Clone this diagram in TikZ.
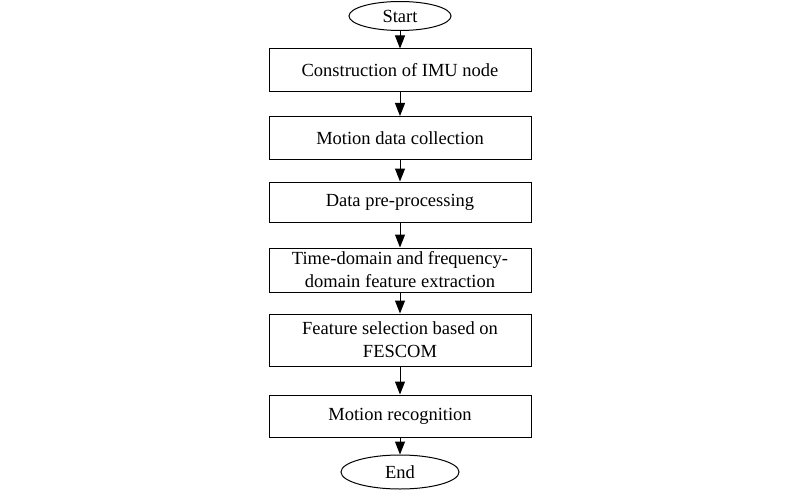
\documentclass[tikz,border=0pt]{standalone}
\usepackage{fontspec}
\setmainfont{Liberation Serif}
\usetikzlibrary{shapes.geometric,arrows.meta}
\begin{document}
\begin{tikzpicture}[x=1pt,y=-1pt,
  every node/.style={font=\fontsize{18.5}{23}\selectfont},
  stepbox/.style={draw,line width=1pt,minimum width=262pt,inner sep=0pt,align=center},
  term/.style={draw,ellipse,line width=1pt,inner sep=0pt},
  conn/.style={line width=1pt,-{Triangle[length=13pt,width=10pt]}}]
\useasboundingbox (0,0) rectangle (800,500);
\node[term,minimum width=102pt,minimum height=29pt] (start) at (400,16) {Start};
\node[stepbox,minimum height=43pt] (b1) at (400,70.5) {Construction of IMU node};
\node[stepbox,minimum height=43pt] (b2) at (400,138) {Motion data collection};
\node[stepbox,minimum height=40pt] (b3) at (400,202) {Data pre-processing};
\node[stepbox,minimum height=44pt] (b4) at (400,270) {Time-domain and frequency-\\domain feature extraction};
\node[stepbox,minimum height=52pt] (b5) at (400,340) {Feature selection based on\\FESCOM};
\node[stepbox,minimum height=42pt] (b6) at (400,416) {Motion recognition};
\node[term,minimum width=118pt,minimum height=34pt] (end) at (400,472) {End};
\draw[conn] (start) -- (b1);
\draw[conn] (b1) -- (b2);
\draw[conn] (b2) -- (b3);
\draw[conn] (b3) -- (b4);
\draw[conn] (b4) -- (b5);
\draw[conn] (b5) -- (b6);
\draw[conn] (b6) -- (end);
\end{tikzpicture}
\end{document}
